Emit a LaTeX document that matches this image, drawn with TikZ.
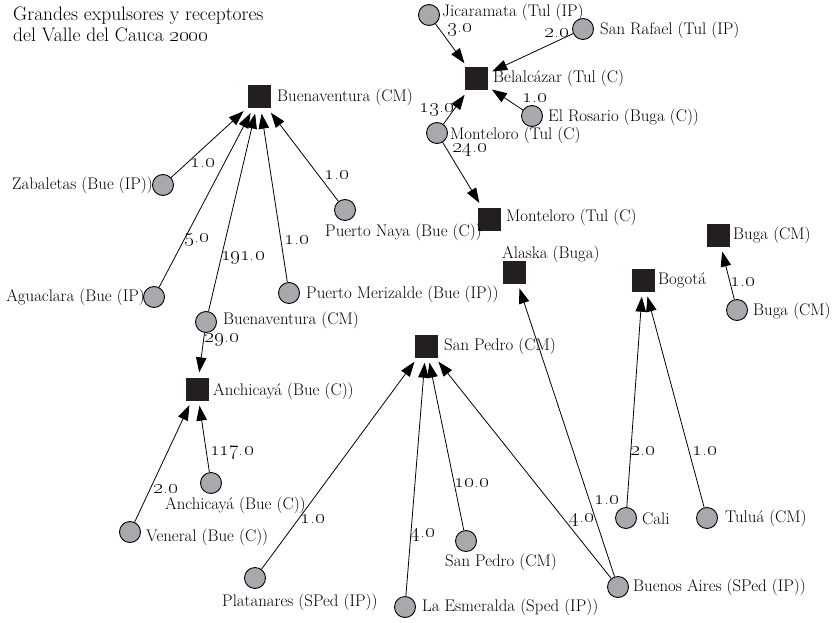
\documentclass[tikz,border=0pt]{standalone}
\usetikzlibrary{arrows.meta}
\definecolor{sqfill}{RGB}{35,31,32}
\definecolor{cfill}{RGB}{167,169,172}
\newcommand\osn[1]{\oldstylenums{#1}}
\begin{document}
\begin{tikzpicture}[x=1pt,y=-1pt,
  sq/.style={rectangle, draw=none, fill=sqfill, minimum size=23pt, inner sep=0pt},
  ci/.style={circle, draw=black, line width=0.9pt, fill=cfill, minimum size=21pt, inner sep=0pt},
  lab/.style={font=\fontsize{16.8}{19}\selectfont, inner sep=0pt, anchor=west},
  labr/.style={font=\fontsize{16.8}{19}\selectfont, inner sep=0pt, anchor=east},
  num/.style={font=\fontsize{19.5}{21}\selectfont, inner sep=0pt},
  arr/.style={-{Triangle[length=15pt,width=10.5pt]}, line width=0.8pt, shorten >=5pt}]
\useasboundingbox (0,0) rectangle (832,623);

% title
\node[font=\fontsize{19.5}{21}\selectfont, anchor=north west, align=left, inner sep=0pt] (title) at (13,7)
  {Grandes expulsores y receptores\\del Valle del Cauca \osn{2000}};

% squares (receivers)
\node[sq] (buesq) at (259,97) {};
\node[sq] (belsq) at (476,79) {};
\node[sq] (monsq) at (489,219) {};
\node[sq] (bugsq) at (718,235) {};
\node[sq] (alasq) at (514,272) {};
\node[sq] (bogsq) at (643,280) {};
\node[sq] (spsq) at (426,346) {};
\node[sq] (ancsq) at (197,389) {};

% circles (senders)
\node[ci] (jic) at (429,15) {};
\node[ci] (sra) at (583,29) {};
\node[ci] (ros) at (532,116) {};
\node[ci] (monc) at (437,133) {};
\node[ci] (zab) at (163,185) {};
\node[ci] (nay) at (345,210) {};
\node[ci] (agu) at (154,297) {};
\node[ci] (mer) at (289,293) {};
\node[ci] (buec) at (206,322) {};
\node[ci] (bugc) at (737,310) {};
\node[ci] (ancc) at (211,483) {};
\node[ci] (ven) at (130,532) {};
\node[ci] (cal) at (626,518) {};
\node[ci] (tul) at (707,518) {};
\node[ci] (spc) at (466,541) {};
\node[ci] (pla) at (255,578) {};
\node[ci] (bai) at (618,587) {};
\node[ci] (esm) at (405,607) {};

% node labels
\node[lab] (tbuesq) at (277,97) {Buenaventura (CM)};
\node[lab] (tbelsq) at (493,78) {Belalcázar (Tul (C)};
\node[lab] (tmonsq) at (506,217) {Monteloro (Tul (C)};
\node[lab] (tbugsq) at (733,235) {Buga (CM)};
\node[lab] (talasq) at (502,254) {Alaska (Buga)};
\node[lab] (tbogsq) at (658,280) {Bogotá};
\node[lab] (tspsq) at (444,346) {San Pedro (CM)};
\node[lab] (tancsq) at (213,391) {Anchicayá (Bue (C))};
\node[lab] (tjic) at (442,12) {Jicaramata (Tul (IP)};
\node[lab] (tsra) at (600,30) {San Rafael (Tul (IP)};
\node[lab] (tros) at (548,117) {El Rosario (Buga (C))};
\node[lab] (tmonc) at (450,135) {Monteloro (Tul (C)};
\node[labr] (tzab) at (153,185) {Zabaletas (Bue (IP))};
\node[lab] (tnay) at (325,232) {Puerto Naya (Bue (C))};
\node[labr] (tagu) at (145,297) {Aguaclara (Bue (IP)};
\node[lab] (tmer) at (306,294) {Puerto Merizalde (Bue (IP))};
\node[lab] (tbuec) at (223,320) {Buenaventura (CM)};
\node[lab] (tbugc) at (753,311) {Buga (CM)};
\node[lab] (tancc) at (165,505) {Anchicayá (Bue (C))};
\node[lab] (tven) at (146,537) {Veneral (Bue (C))};
\node[lab] (tcal) at (642,519) {Cali};
\node[lab] (ttul) at (725,518) {Tuluá (CM)};
\node[lab] (tspc) at (445,562) {San Pedro (CM)};
\node[lab] (tpla) at (222,602) {Platanares (SPed (IP))};
\node[lab] (tbai) at (633,587) {Buenos Aires (SPed (IP))};
\node[lab] (tesm) at (422,607) {La Esmeralda (Sped (IP))};

% connectors
\draw[arr] (zab) -- (buesq);
\draw[arr] (agu) -- (buesq);
\draw[arr] (buec) -- (buesq);
\draw[arr] (mer) -- (buesq);
\draw[arr] (nay) -- (buesq);
\draw[arr] (buec) -- (ancsq);
\draw[arr] (ven) -- (ancsq);
\draw[arr] (ancc) -- (ancsq);
\draw[arr] (jic) -- (belsq);
\draw[arr] (sra) -- (belsq);
\draw[arr] (ros) -- (belsq);
\draw[arr] (monc) -- (belsq);
\draw[arr] (monc) -- (monsq);
\draw[arr] (bugc) -- (bugsq);
\draw[arr] (cal) -- (bogsq);
\draw[arr] (tul) -- (bogsq);
\draw[arr] (bai) -- (alasq);
\draw[arr] (bai) -- (spsq);
\draw[arr] (pla) -- (spsq);
\draw[arr] (esm) -- (spsq);
\draw[arr] (spc) -- (spsq);

% connector labels
\node[num] (n1) at (203,163) {\osn{1.0}};
\node[num] (n2) at (197,240) {\osn{5.0}};
\node[num] (n3) at (243,258) {\osn{191.0}};
\node[num] (n4) at (297,240) {\osn{1.0}};
\node[num] (n5) at (337,175) {\osn{1.0}};
\node[num] (n6) at (222,340) {\osn{29.0}};
\node[num] (n7) at (166,489) {\osn{2.0}};
\node[num] (n8) at (232,453) {\osn{117.0}};
\node[num] (n9) at (460,30) {\osn{3.0}};
\node[num] (n10) at (557,33) {\osn{2.0}};
\node[num] (n11) at (535,98) {\osn{1.0}};
\node[num] (n12) at (437,110) {\osn{13.0}};
\node[num] (n13) at (470,150) {\osn{24.0}};
\node[num] (n14) at (743,282) {\osn{1.0}};
\node[num] (n15) at (643,451) {\osn{2.0}};
\node[num] (n16) at (705,451) {\osn{1.0}};
\node[num] (n17) at (607,500) {\osn{1.0}};
\node[num] (n18) at (582,520) {\osn{4.0}};
\node[num] (n19) at (313,519) {\osn{1.0}};
\node[num] (n20) at (423,535) {\osn{4.0}};
\node[num] (n21) at (472,483) {\osn{10.0}};
\end{tikzpicture}
\end{document}
